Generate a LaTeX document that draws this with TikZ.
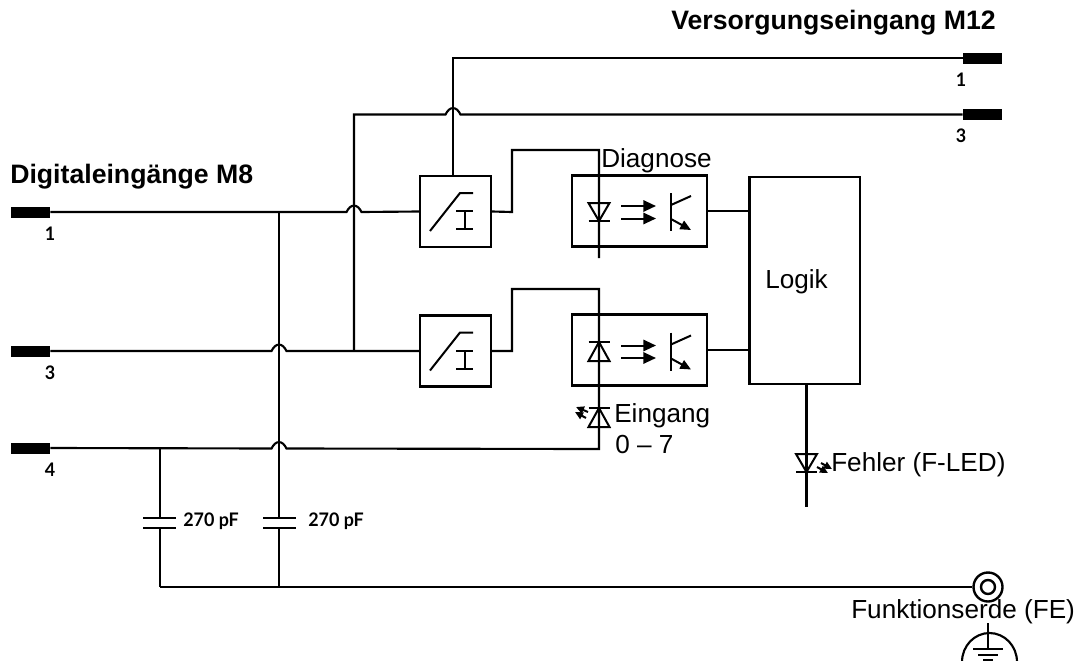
\documentclass[tikz,border=0pt]{standalone}
\usepackage{fontspec}
\setmainfont{Liberation Sans}
\newfontfamily\pinfont[FakeStretch=0.96]{Lato}
\usetikzlibrary{arrows.meta,calc}
\newcommand\hopat[1]{-- ([xshift=-5.6pt]#1) .. controls ([xshift=-2.6pt,yshift=6.4pt]#1) and ([xshift=2.6pt,yshift=6.4pt]#1) .. ([xshift=5.6pt]#1)}
\tikzset{
  x=0.75pt,y=-0.75pt,
  wire/.style={draw,line width=1.6pt},
  pinbar/.style={fill=black,inner sep=0,minimum width=29.25pt,minimum height=8.25pt},
  block/.style={draw,line width=1.6pt,inner sep=0,minimum width=53.25pt,minimum height=53.25pt},
  opto/.style={draw,line width=1.6pt,inner sep=0,minimum width=101.25pt,minimum height=53.25pt},
  logic/.style={draw,line width=1.6pt,inner sep=0,minimum width=82.9pt,minimum height=155.25pt},
  lab/.style={inner sep=0,anchor=base west,font=\fontsize{19.6}{22}\selectfont},
  blab/.style={inner sep=0,anchor=base west,font=\fontsize{20}{22}\selectfont\bfseries},
  plab/.style={inner sep=0,font=\fontsize{14}{15}\pinfont\bfseries},
  arrowtip/.style={-{Triangle[length=9.5pt,width=8.5pt]}},
  smalltip/.style={-{Triangle[length=6pt,width=5.5pt]},line width=1.5pt},
  pics/limiter/.style={code={
    \draw[line width=1.5pt] (-17,20) -- (13,-18) -- (26,-18);
    \draw[line width=1.5pt] (9,0) -- (26,0) (17.5,0) -- (17.5,18) (9,18) -- (26,18);
  }},
  pics/coupler/.style={code={
    \draw[arrowtip,line width=1.5pt] (0,-6) -- (35,-6);
    \draw[arrowtip,line width=1.5pt] (0,6.5) -- (35,6.5);
    \draw[line width=1.6pt] (50,-19) -- (50,19);
    \draw[line width=1.5pt] (50,-7) -- (70,-16);
    \draw[line width=1.5pt,-{Triangle[length=8pt,width=7pt]}] (50,7) -- (70,18);
  }},
  pics/diodedown/.style={code={
    \draw[line width=1.5pt] (-10.5,0) -- (10.5,0) -- (0,18) -- cycle;
    \draw[line width=1.5pt] (-10.5,18) -- (10.5,18);
  }},
  pics/diodeup/.style={code={
    \draw[line width=1.5pt] (-10.5,19) -- (10.5,19) -- (0,0) -- cycle;
    \draw[line width=1.5pt] (-10.5,0) -- (10.5,0);
  }},
}
\begin{document}
\begin{tikzpicture}
\useasboundingbox (0,0) rectangle (1089,664);
% pins
\node[pinbar] (pr1) at (982.5,58) {};
\node[pinbar] (pr3) at (982.5,114.5) {};
\node[pinbar] (pl1) at (30.5,212) {};
\node[pinbar] (pl3) at (30.5,351) {};
\node[pinbar] (pl4) at (30.5,448) {};
% blocks
\node[block] (b1) at (455.5,211.5) {};
\node[block] (b2) at (455.5,351) {};
\node[opto] (o1) at (639.5,211) {};
\node[opto] (o2) at (639.5,350) {};
\node[logic] (lg) at (804.75,280.5) {};
% junctions
\coordinate (x279a) at (279,212);
\coordinate (hop1) at (354,212);
\coordinate (hop3) at (279,351);
\coordinate (hop4) at (279,448.5);
\coordinate (hopt) at (453,114.5);
\coordinate (j354) at (354,351);
\coordinate (c1top) at (160,448.5);
\coordinate (bl) at (160,587);
\coordinate (bm) at (279,587);
\coordinate (d1t) at (599,150);
\coordinate (d1e) at (599,258);
\coordinate (d2t) at (599,289);
\coordinate (d2e) at (599,449);
\coordinate (t453) at (453,58);
\coordinate (t354) at (354,114.5);
\coordinate (k1) at (512,212);
\coordinate (k2) at (512,351);
\coordinate (ledtop) at (806.5,384);
\coordinate (ledend) at (806.5,507);
% wires
\draw[wire] (pr1.west) -- (t453) -- (t453 |- b1.north);
\draw[wire] (pr3.west) -- ([xshift=5.6pt]hopt) .. controls ([xshift=2.6pt,yshift=6.4pt]hopt) and ([xshift=-2.6pt,yshift=6.4pt]hopt) .. ([xshift=-5.6pt]hopt) -- (t354) -- (j354);
\draw[wire] (pl1.east) \hopat{hop1} -- (b1.west);
\draw[wire] (pl3.east) \hopat{hop3} -- (b2.west);
\draw[wire] (pl4.east) \hopat{hop4} -- (d2e) -- (d2t) -- (k2 |- d2t) -- (k2) -- (b2.east);
\draw[wire] (b1.east) -- (k1) -- (k1 |- d1t) -- (d1t) -- (d1e);
\draw[wire] (x279a) -- (279,518) (279,528) -- (bm);
\draw[wire] (o1.east) -- (o1.east -| lg.west);
\draw[wire] (o2.east) -- (o2.east -| lg.west);
\draw[wire] (c1top) -- (160,518) (160,528) -- (bl);
\draw[wire] (bl) -- (bm);
% capacitors
\draw[wire] (143,518) -- (176,518) (143,528) -- (176,528);
\draw[wire] (263,518) -- (296,518) (263,528) -- (296,528);
% FE
\node[draw,circle,line width=1.8pt,minimum size=21.75pt,inner sep=0] (fe) at (988,587) {};
\node[draw,circle,line width=1.8pt,minimum size=10.5pt,inner sep=0] (fei) at (988,587) {};
\draw[wire] (bm) -- (fe.west);
% ground
\begin{scope}
\clip (950,615) rectangle (1030,660.5);
\draw[wire] (988,623) -- (988,649);
\draw[wire] (973,649) -- (1003,649) (978,655) -- (998,655) (983,660) -- (993,660);
\draw[wire] (962,662) arc[start angle=180,end angle=360,x radius=27.5,y radius=29];
\end{scope}
% LED to logic
\draw[wire] (ledtop) -- (ledend);
\pic at (806.5,454) {diodedown};
\draw[smalltip] (817,467) -- (828,473);
\draw[smalltip] (821,463) -- (832,469);
% symbols
\pic at (447,211) {limiter};
\pic at (447,350.5) {limiter};
\pic at (621,212) {coupler};
\pic at (621,351.5) {coupler};
\pic at (599,203) {diodedown};
\pic at (599,342) {diodeup};
\pic at (599,408) {diodeup};
\draw[smalltip] (588,412) -- (576,407);
\draw[smalltip] (586,418) -- (575,412);
% labels
\node[blab] (t1) at (671,29) {Versorgungseingang M12};
\node[blab] (t2) at (10,183) {Digitaleingänge M8};
\node[lab] (t3) at (601,167) {Diagnose};
\node[lab] (t4) at (765,288) {Logik};
\node[lab] (t5) at (614,422) {Eingang};
\node[lab] (t6) at (615,453) {0 – 7};
\node[lab] (t7) at (831,471) {Fehler (F-LED)};
\node[lab] (t8) at (851,618) {Funktionserde (FE)};
\node[plab] (n1) at (961,80) {1};
\node[plab] (n2) at (961,136) {3};
\node[plab] (n3) at (50,234) {1};
\node[plab] (n4) at (50,373) {3};
\node[plab] (n5) at (50,470) {4};
\node[plab,anchor=base west] (c1) at (183,526.5) {270 pF};
\node[plab,anchor=base west] (c2) at (308,526.5) {270 pF};
\end{tikzpicture}
\end{document}
